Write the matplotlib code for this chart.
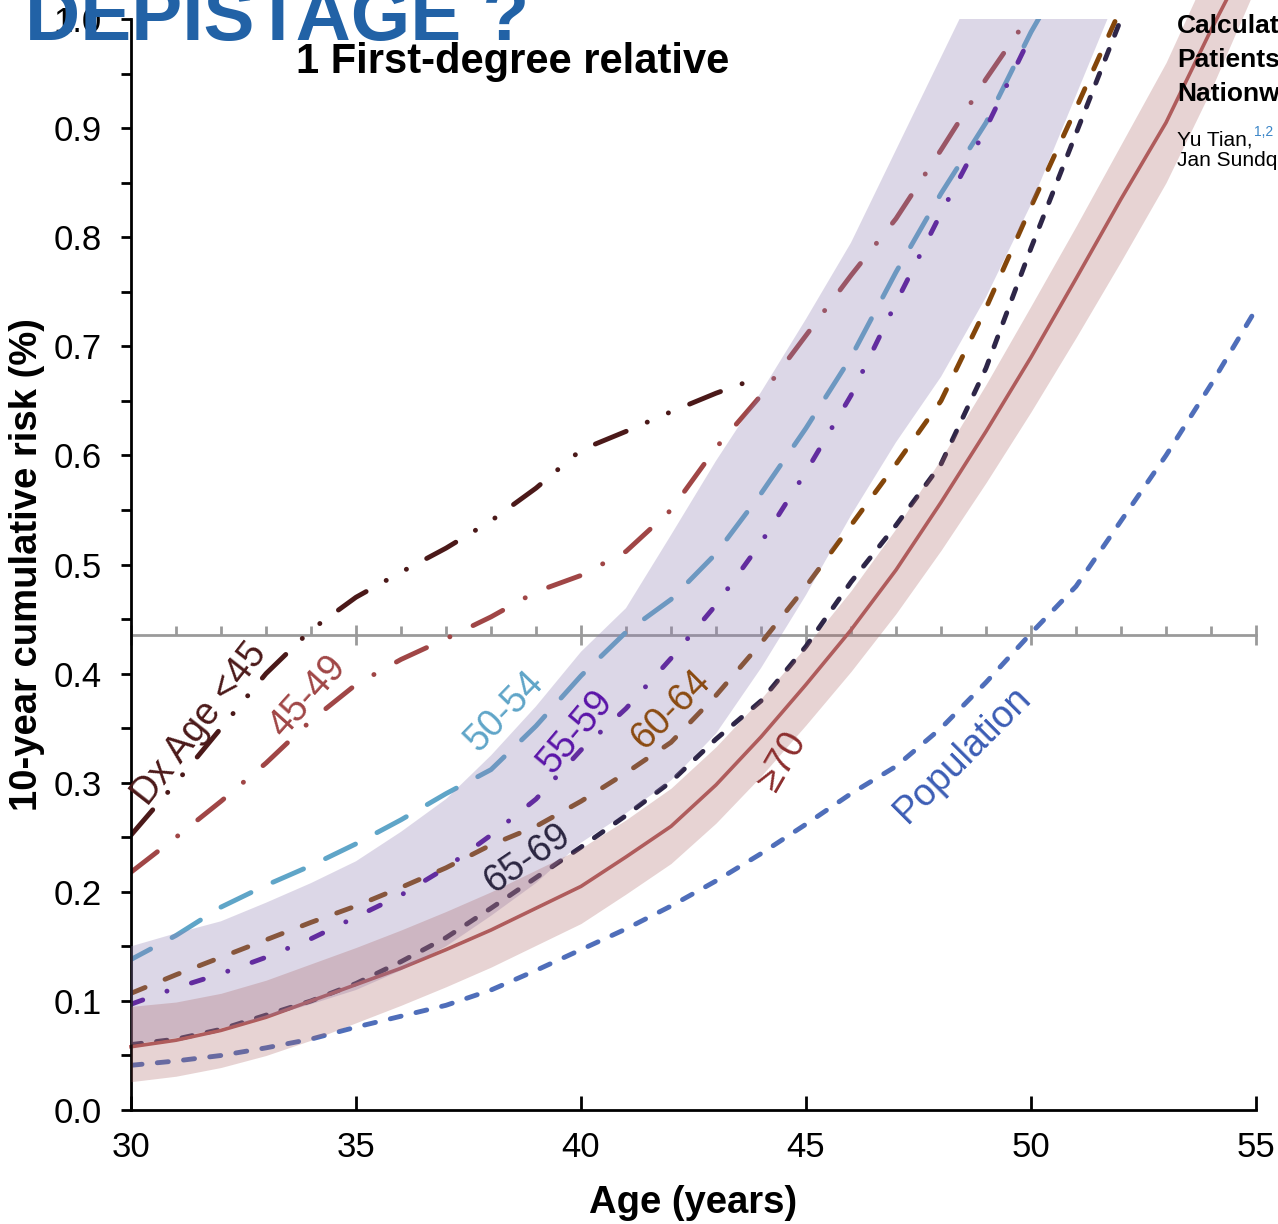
import matplotlib
matplotlib.use("Agg")
import matplotlib.pyplot as plt
from matplotlib.ticker import MultipleLocator, FormatStrFormatter
import numpy as np

plt.rcParams["font.family"] = ["Liberation Sans", "DejaVu Sans"]
plt.rcParams["lines.scale_dashes"] = False

# ---- 10-year cumulative risk (%) by age, per age at diagnosis of the relative ----
age_lt45 = np.arange(30, 45)
risk_lt45 = [0.252, 0.30, 0.35, 0.40, 0.44, 0.47, 0.493, 0.515, 0.54, 0.57,
             0.605, 0.622, 0.64, 0.657, 0.672]

age_45_49 = np.arange(30, 51)
risk_45_49 = [0.218, 0.25, 0.283, 0.318, 0.357, 0.39, 0.413, 0.432, 0.452, 0.475,
              0.49, 0.512, 0.55, 0.607, 0.655, 0.71, 0.765, 0.817, 0.88, 0.945, 1.005]

age_50_54 = np.arange(30, 52)
risk_50_54 = [0.138, 0.16, 0.186, 0.206, 0.224, 0.244, 0.266, 0.29, 0.312, 0.352,
              0.398, 0.438, 0.468, 0.51, 0.565, 0.625, 0.69, 0.768, 0.84, 0.905,
              0.988, 1.06]

age_55_59 = np.arange(30, 51)
risk_55_59 = [0.097, 0.112, 0.125, 0.14, 0.157, 0.177, 0.197, 0.222, 0.252, 0.285,
              0.33, 0.368, 0.414, 0.463, 0.52, 0.585, 0.655, 0.74, 0.822, 0.90, 0.985]

age_60_64 = np.arange(30, 53)
risk_60_64 = [0.107, 0.124, 0.14, 0.156, 0.172, 0.187, 0.204, 0.222, 0.243, 0.26,
              0.283, 0.309, 0.337, 0.38, 0.428, 0.48, 0.536, 0.592, 0.65, 0.735,
              0.828, 0.918, 1.01]

age_65_69 = np.arange(30, 53)
risk_65_69 = [0.06, 0.065, 0.074, 0.087, 0.10, 0.116, 0.136, 0.158, 0.185, 0.213,
              0.241, 0.27, 0.301, 0.34, 0.375, 0.425, 0.484, 0.536, 0.592, 0.68,
              0.79, 0.895, 1.0]

age_all = np.arange(30, 56)
risk_ge70 = [0.058, 0.064, 0.073, 0.085, 0.10, 0.115, 0.13, 0.147, 0.165, 0.185,
             0.205, 0.232, 0.26, 0.298, 0.342, 0.39, 0.44, 0.495, 0.557, 0.622,
             0.69, 0.762, 0.835, 0.905, 0.99, 1.07]
ge70_lo = [0.026, 0.031, 0.039, 0.05, 0.064, 0.08, 0.096, 0.113, 0.131, 0.151,
           0.171, 0.198, 0.226, 0.263, 0.306, 0.353, 0.402, 0.455, 0.513, 0.575,
           0.64, 0.708, 0.778, 0.85, 0.935, 1.03]
ge70_hi = [0.095, 0.099, 0.107, 0.119, 0.134, 0.149, 0.165, 0.182, 0.20, 0.22,
           0.24, 0.266, 0.295, 0.333, 0.377, 0.425, 0.476, 0.533, 0.597, 0.665,
           0.737, 0.81, 0.885, 0.96, 1.05, 1.14]

risk_population = [0.041, 0.045, 0.05, 0.057, 0.065, 0.076, 0.086, 0.096, 0.11, 0.128,
                   0.147, 0.166, 0.187, 0.21, 0.235, 0.262, 0.29, 0.315, 0.35, 0.392,
                   0.437, 0.48, 0.54, 0.60, 0.665, 0.734]

age_band = np.arange(30, 53)
band_lo = [0.06, 0.066, 0.075, 0.085, 0.097, 0.11, 0.128, 0.15, 0.178, 0.208,
           0.245, 0.272, 0.302, 0.345, 0.405, 0.472, 0.545, 0.612, 0.672, 0.745,
           0.83, 0.93, 1.03]
band_hi = [0.15, 0.162, 0.173, 0.19, 0.208, 0.228, 0.255, 0.285, 0.325, 0.37,
           0.42, 0.46, 0.527, 0.595, 0.658, 0.725, 0.795, 0.88, 0.965, 1.05,
           1.13, 1.2, 1.28]

threshold = 0.435  # population risk at age 50

fig = plt.figure(figsize=(12.78, 12.24), dpi=100)
ax = fig.add_axes([0.1025, 0.0931, 0.8803, 0.8914])

# threshold line with yearly ticks
thr = ax.secondary_xaxis(threshold)
thr.set_xticks(np.arange(30, 56, 5))
thr.xaxis.set_minor_locator(MultipleLocator(1))
thr.tick_params(which="major", direction="inout", length=15, width=2,
                colors="#9A9A9A", labelbottom=False, labeltop=False)
thr.tick_params(which="minor", direction="in", length=6.5, width=2, colors="#9A9A9A")
for sp in thr.spines.values():
    sp.set_color("#9A9A9A")
    sp.set_linewidth(2)

LW = 3.5
kw = dict(lw=LW, dash_capstyle="round", zorder=2)
ax.plot(age_lt45, risk_lt45, color="#4B1919",
        ls=(0, (24, 16.5, 0.1, 16.5, 0.1, 16.5)), **kw)
ax.plot(age_45_49, risk_45_49, color="#A04646", ls=(0, (24, 18.5, 0.1, 18.5)), **kw)
ax.plot(age_50_54, risk_50_54, color="#5FA5C8", ls=(8, (24, 17.5)), **kw)
ax.plot(age_55_59, risk_55_59, color="#500A98", ls=(0, (9, 18.5, 0.1, 18.5)), **kw)
ax.plot(age_60_64, risk_60_64, color="#84460A", ls=(0, (11, 15.5)), **kw)
ax.plot(age_65_69, risk_65_69, color="#2E2648", ls=(0, (7.6, 10.9)), **kw)
ax.plot(age_all, risk_population, color="#4F6EBA", ls=(0, (8.0, 11.0)), **kw)
ax.plot(age_all, risk_ge70, color="#B25A5A", lw=2.6, zorder=2, clip_on=False)

# confidence bands laid over the curves
ax.fill_between(age_band, band_lo, band_hi, color="#8E7DB2", alpha=0.3, lw=0, zorder=3)
ax.fill_between(age_all, ge70_lo, ge70_hi, color="#A96262", alpha=0.28, lw=0,
                zorder=3.1, clip_on=False)

labels = [
    ("Dx Age <45", 31.53, 0.354, 52, "#4B1919"),
    ("45-49", 33.93, 0.379, 48, "#A04646"),
    ("50-54", 38.31, 0.365, 46, "#5FA5C8"),
    ("55-59", 39.89, 0.347, 50, "#5A14A8"),
    ("60-64", 42.0, 0.367, 45, "#8A4A10"),
    ("65-69", 38.8, 0.23, 34, "#2A2540"),
    ("\u226570", 44.49, 0.32, 60, "#8C2D2D"),
    ("Population", 48.49, 0.326, 45, "#3C5DB5"),
]
for txt, x, y, rot, col in labels:
    ax.text(x, y, txt, color=col, fontsize=27, rotation=rot, rotation_mode="anchor",
            ha="center", va="center", zorder=6)

ax.set_xlim(30, 55)
ax.set_ylim(0, 1)
ax.set_xticks(np.arange(30, 56, 5))
ax.yaxis.set_major_locator(MultipleLocator(0.1))
ax.yaxis.set_minor_locator(MultipleLocator(0.05))
ax.yaxis.set_major_formatter(FormatStrFormatter("%.1f"))
ax.tick_params(axis="x", direction="in", length=10, width=2, labelsize=25, pad=15)
ax.tick_params(axis="y", which="both", direction="out", length=7, width=2,
               labelsize=25, pad=14)
for s in ["top", "right"]:
    ax.spines[s].set_visible(False)
for s in ["left", "bottom"]:
    ax.spines[s].set_linewidth(2)

fig.text(693 / 1278, 1 - 1203 / 1224, "Age (years)", fontsize=27.5, weight="bold",
         ha="center", va="center")
fig.text(27 / 1278, 1 - 565 / 1224, "10-year cumulative risk (%)", fontsize=27.5,
         weight="bold", rotation=90, ha="center", va="center")
fig.text(513 / 1278, 1 - 62 / 1224, "1 First-degree relative", fontsize=30,
         weight="bold", ha="center", va="center")

# slide overlays
fig.text(25 / 1278, 1 - 40 / 1224, "DEPISTAGE ?", fontsize=55, weight="bold",
         color="#2262A6", ha="left", va="baseline")
for line, base in [("Calculati", 33), ("Patients", 67), ("Nationwi", 101)]:
    fig.text(1177 / 1278, 1 - base / 1224, line, fontsize=19, weight="bold",
             ha="left", va="baseline")
fig.text(1177 / 1278, 1 - 146 / 1224, "Yu Tian,", fontsize=15, ha="left", va="baseline")
fig.text(1254 / 1278, 1 - 136 / 1224, "1,2", fontsize=10, color="#3C86C8",
         ha="left", va="baseline")
fig.text(1177 / 1278, 1 - 166 / 1224, "Jan Sundqu", fontsize=15, ha="left", va="baseline")

fig.savefig("out.png", dpi=100)
